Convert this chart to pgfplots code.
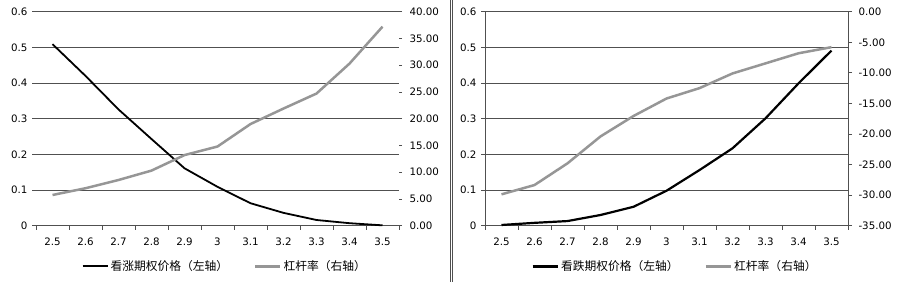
\documentclass[border=0pt]{standalone}
\usepackage{pgfplots}
\pgfplotsset{compat=1.18}
\usepackage{fontspec}
\setmainfont{DejaVu Sans}
\newfontfamily\cjk{Noto Sans CJK SC}
\definecolor{serGray}{RGB}{150,150,150}
\definecolor{gridc}{RGB}{80,80,80}

\pgfplotsset{
  base/.style={
    scale only axis, anchor=south west,
    xmin=-0.5, xmax=10.5, clip=false,
    font=\fontsize{10.3}{12}\selectfont,
    /pgf/number format/assume math mode=true,
    tick align=outside,
  },
  catx/.style={
    axis x line*=bottom,
    x axis line style={gridc, line width=0.8bp, -},
    xtick={0,1,2,3,4,5,6,7,8,9,10},
    xticklabels={2.5,2.6,2.7,2.8,2.9,3,3.1,3.2,3.3,3.4,3.5},
    minor xtick={-0.5,0.5,1.5,2.5,3.5,4.5,5.5,6.5,7.5,8.5,9.5,10.5},
    major x tick style={draw=none},
    minor x tick style={draw=gridc, line width=0.8bp},
    minor tick length=4bp, major tick length=4bp,
    xticklabel style={yshift=-5bp},
  },
  lefty/.style={
    ymin=0, ymax=0.6,
    ytick={0,0.1,0.2,0.3,0.4,0.5,0.6},
    yticklabels={0,0.1,0.2,0.3,0.4,0.5,0.6},
    ymajorgrids, grid style={gridc, line width=0.8bp},
  },
  legline/.style={legend image code/.code={\draw[##1] (0bp,0bp) -- (25bp,0bp);}},
  legsty/.style={legend columns=2,
    legend style={draw=none, fill=none, font=\fontsize{11.8}{14}\selectfont\cjk,
      at={(#1,-0.19)}, anchor=center,
      /tikz/every even column/.append style={column sep=24bp}},
  },
}

\begin{document}
\begin{tikzpicture}
\useasboundingbox (0,0) rectangle (900bp,282bp);
\draw[gridc, line width=0.7bp] (450.5bp,0) -- (450.5bp,282bp);
\draw[gridc, line width=0.7bp] (452.8bp,0) -- (452.8bp,282bp);

% ---------- left panel ----------
\begin{axis}[base, catx, lefty, at={(36bp,56.3bp)}, width=363bp, height=214bp,
  axis y line*=left, y axis line style={draw=none},
  ytick style={draw=gridc, line width=0.8bp},
  yticklabel style={xshift=-1bp}]
\addplot[black, line width=1.8bp] coordinates {
(0,0.509) (1,0.42) (2,0.326) (3,0.243) (4,0.161) (5,0.109) (6,0.063) (7,0.036) (8,0.016) (9,0.007) (10,0.001)};
\end{axis}
\begin{axis}[base, at={(36bp,56.3bp)}, width=363bp, height=214bp,
  axis x line=none, axis y line*=right, y axis line style={draw=none},
  ymin=0, ymax=40, ytick={0,5,10,15,20,25,30,35,40},
  yticklabels={0.00,5.00,10.00,15.00,20.00,25.00,30.00,35.00,40.00},
  ytick style={draw=gridc, line width=0.8bp}, major tick length=3bp,
  yticklabel style={xshift=4bp},
  legsty=0.52]
\addlegendimage{black, line width=2bp, legline}
\addlegendentry{看涨期权价格（左轴）}
\addplot[serGray, line width=2.5bp, legline] coordinates {
(0,5.74) (1,7.0) (2,8.54) (3,10.3) (4,13.2) (5,14.8) (6,19.0) (7,21.9) (8,24.7) (9,30.3) (10,37.2)};
\addlegendentry{杠杆率（右轴）}
\end{axis}

% ---------- right panel ----------
\begin{axis}[base, catx, lefty, at={(485bp,56.3bp)}, width=363bp, height=214bp,
  axis y line*=left, y axis line style={gridc, line width=0.8bp, -},
  ytick style={draw=gridc, line width=0.8bp},
  yticklabel style={xshift=-1bp}]
\addplot[black, line width=2.2bp] coordinates {
(0,0.002) (1,0.008) (2,0.013) (3,0.03) (4,0.053) (5,0.098) (6,0.156) (7,0.217) (8,0.301) (9,0.399) (10,0.491)};
\end{axis}
\begin{axis}[base, at={(485bp,56.3bp)}, width=363bp, height=214bp,
  axis x line=none, axis y line*=right, y axis line style={gridc, line width=0.8bp, -},
  ymin=-35, ymax=0, ytick={-35,-30,-25,-20,-15,-10,-5,0},
  yticklabels={-35.00,-30.00,-25.00,-20.00,-15.00,-10.00,-5.00,0.00},
  ytick style={draw=gridc, line width=0.8bp}, major tick length=4bp,
  yticklabel style={xshift=3bp},
  legsty=0.523]
\addlegendimage{black, line width=3bp, legline}
\addlegendentry{看跌期权价格（左轴）}
\addplot[serGray, line width=2.5bp, legline] coordinates {
(0,-29.87) (1,-28.35) (2,-24.8) (3,-20.4) (4,-17.06) (5,-14.2) (6,-12.5) (7,-10.1) (8,-8.45) (9,-6.8) (10,-5.8)};
\addlegendentry{杠杆率（右轴）}
\end{axis}
\end{tikzpicture}
\end{document}
